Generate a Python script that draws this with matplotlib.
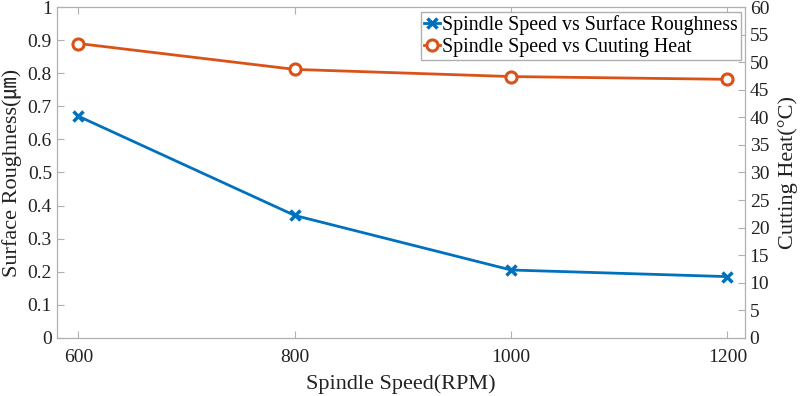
import matplotlib
matplotlib.use("Agg")
import matplotlib.pyplot as plt

speed = [600, 800, 1000, 1200]
roughness = [0.67, 0.37, 0.205, 0.185]
heat = [53.4, 48.7, 47.4, 46.9]

plt.rcParams['font.family'] = ['Liberation Serif', 'Noto Sans CJK KR', 'DejaVu Serif']
fig = plt.figure(figsize=(8, 3.96), dpi=100)
ax = fig.add_axes([0.071, 0.147, 0.86, 0.835])
ax2 = ax.twinx()

blue = '#0072BD'
orange = '#D95319'
l1, = ax.plot(speed, roughness, color=blue, lw=2, marker='x', ms=7, mew=2.5,
              label='Spindle Speed vs Surface Roughness')
l2, = ax2.plot(speed, heat, color=orange, lw=2, marker='o', ms=8, mew=2.2,
               mfc='white', label='Spindle Speed vs Cuuting Heat')

ax.set_xlim(580, 1216)
ax.set_ylim(0, 1)
ax2.set_ylim(0, 60)
ax.set_xticks(speed)
ax.set_yticks([i / 10 for i in range(11)])
ax.set_yticklabels(['0'] + [f'{i/10:.1f}' for i in range(1, 10)] + ['1'])
ax2.set_yticks(range(0, 61, 5))

for a in (ax, ax2):
    for s in a.spines.values():
        s.set_color('#b0b0b0')
    a.tick_params(direction='in', colors='#b0b0b0', labelcolor='#222222',
                  labelsize=14, length=5)
ax.tick_params(top=True)
ax.tick_params(axis='x', pad=8)

ax.set_xlabel('Spindle Speed(RPM)', fontsize=16, color='#222222', labelpad=6)
ax.set_ylabel('Surface Roughness(㎛)', fontsize=16, color='#222222')
ax2.set_ylabel('Cutting Heat(°C)', fontsize=16, color='#222222', labelpad=6)

leg = ax2.legend([l1, l2], [l1.get_label(), l2.get_label()], loc='upper right',
                 bbox_to_anchor=(0.994, 0.985), borderaxespad=0,
                 fontsize=14.3, handlelength=0.8, handletextpad=0.1,
                 borderpad=0.15, fancybox=False,
                 framealpha=1, labelspacing=0.15)
leg.get_frame().set_edgecolor('#b0b0b0')

fig.savefig('out.png', dpi=100)
